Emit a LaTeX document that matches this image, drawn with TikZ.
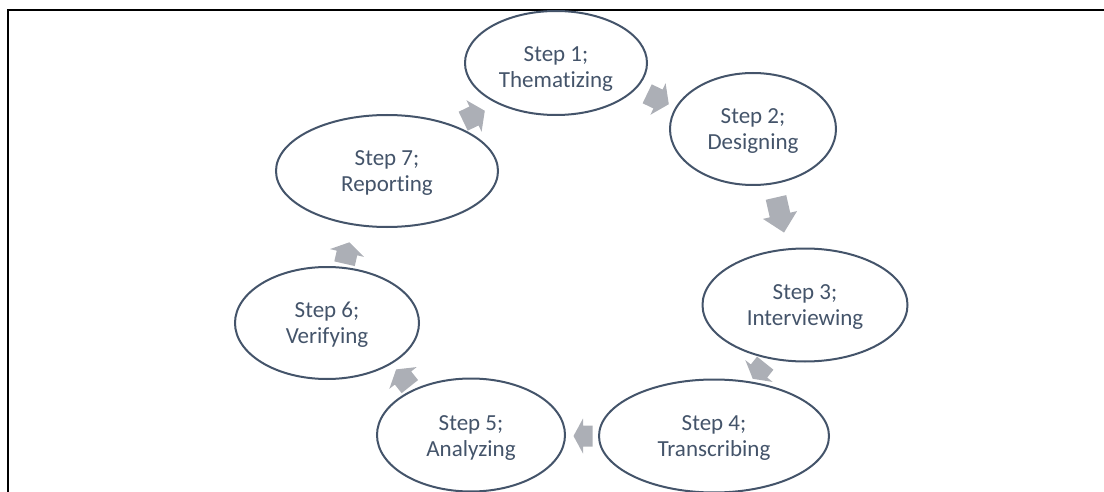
\documentclass[tikz,border=0pt]{standalone}
\usepackage{fontspec}
\setmainfont{Carlito}[Ligatures=NoCommon]
\usetikzlibrary{shapes.geometric}
\definecolor{slate}{HTML}{44546A}
\definecolor{arrowgray}{HTML}{ACAFB6}
% two centred lines, lowered by #3 without changing the box size
\newcommand\steplines[3]{\raisebox{#3}[\height][\depth]{%
  \begin{tabular}{@{}c@{}}#1\\#2\end{tabular}}}
\tikzset{
  stepnode/.style={ellipse, draw=slate, line width=2pt, fill=white,
    inner sep=0pt, text=slate,
    font=\fontsize{23}{26}\selectfont},
  % block arrow of total length #1, centred on the head base
  pics/blockarrow/.style={code={
    \fill[arrowgray] ({-#1/2},-10.5) -- (0,-10.5) -- (0,-17.5) -- ({#1/2},0)
      -- (0,17.5) -- (0,10.5) -- ({-#1/2},10.5) -- cycle;}}
}
\begin{document}
\begin{tikzpicture}[x=1pt,y=-1pt]
\useasboundingbox (0,0) rectangle (1104,492);
% frame lines along the top and left
\draw[line width=2.5pt] (8,492) -- (8,10) -- (1104,10);

% the seven steps
\node[stepnode, minimum width=182, minimum height=104] (s1) at (556,63) {\steplines{Step 1;}{Thematizing}{-6pt}};
\node[stepnode, minimum width=166, minimum height=112] (s2) at (753,129) {\steplines{Step 2;}{Designing}{-2pt}};
\node[stepnode, minimum width=205, minimum height=113] (s3) at (805,305) {\steplines{Step 3;}{Interviewing}{-2pt}};
\node[stepnode, minimum width=230, minimum height=113] (s4) at (714,436) {\steplines{Step 4;}{Transcribing}{-2pt}};
\node[stepnode, minimum width=188, minimum height=113] (s5) at (471,435) {\steplines{Step 5;}{Analyzing}{-3pt}};
\node[stepnode, minimum width=184, minimum height=112] (s6) at (327,323) {\steplines{Step 6;}{Verifying}{-2pt}};
\node[stepnode, minimum width=222, minimum height=112] (s7) at (387,171) {\steplines{Step 7;}{Reporting}{-2pt}};

% block arrows around the cycle
\coordinate (a12) at (658,99);
\coordinate (a23) at (780,215);
\coordinate (a34) at (759,371);
\coordinate (a45) at (583,436);
\coordinate (a56) at (403,378);
\coordinate (a67) at (347,253);
\coordinate (a71) at (474,116);
\pic[rotate=-25.7] at (a12) {blockarrow=24};
\pic[rotate=-77.1] at (a23) {blockarrow=36};
\pic[rotate=-128.6] at (a34) {blockarrow=20};
\pic[rotate=180] at (a45) {blockarrow=19};
\pic[rotate=128.6] at (a56) {blockarrow=22};
\pic[rotate=77.1] at (a67) {blockarrow=22};
\pic[rotate=25.7] at (a71) {blockarrow=24};
\end{tikzpicture}
\end{document}
